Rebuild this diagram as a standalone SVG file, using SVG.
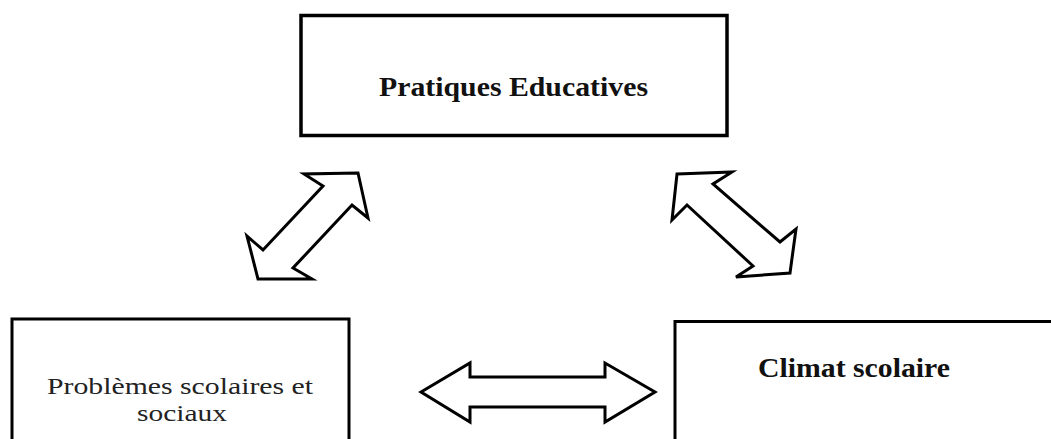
<svg xmlns="http://www.w3.org/2000/svg" width="1051" height="439" viewBox="0 0 1051 439">
<style>
.box{fill:#fff;stroke:#000;stroke-width:3.5}
.arr{fill:#fff;stroke:#000;stroke-width:3;stroke-linejoin:miter}
.b{font-family:"Liberation Serif","Times New Roman",serif;font-weight:bold;font-size:27px;fill:#111}
.r{font-family:"Liberation Serif","Times New Roman",serif;font-size:24px;fill:#222}
</style>
<rect width="1051" height="439" fill="#fff"/>
<g id="node-pratiques">
<rect class="box" x="301" y="15.5" width="426" height="120"/>
<text class="b" x="379" y="96" textLength="269" lengthAdjust="spacingAndGlyphs">Pratiques Educatives</text>
</g>
<g id="node-problemes">
<rect class="box" x="12" y="319" width="337" height="140" style="stroke-width:3"/>
<text class="r" x="47" y="394" textLength="266" lengthAdjust="spacingAndGlyphs">Problèmes scolaires et</text>
<text class="r" x="137" y="421" textLength="90" lengthAdjust="spacingAndGlyphs">sociaux</text>
</g>
<g id="node-climat">
<rect class="box" x="675" y="321.5" width="400" height="140" style="stroke-width:3"/>
<text class="b" x="758" y="377" textLength="192" lengthAdjust="spacingAndGlyphs">Climat scolaire</text>
</g>
<g id="connectors">
<polygon class="arr" points="358,173 304,174 323,186 263,250 247,236 258,279 312,279 293,268 352,205 368,218"/>
<polygon class="arr" points="677,174 732,172 713,184 780,242 796,229 790,273 736,277 753,266 687,205 672,220"/>
<polygon class="arr" points="421,392 470,363 470,377 605,377 605,363 655,392 605,422 605,407 470,407 470,422"/>
</g>
</svg>
